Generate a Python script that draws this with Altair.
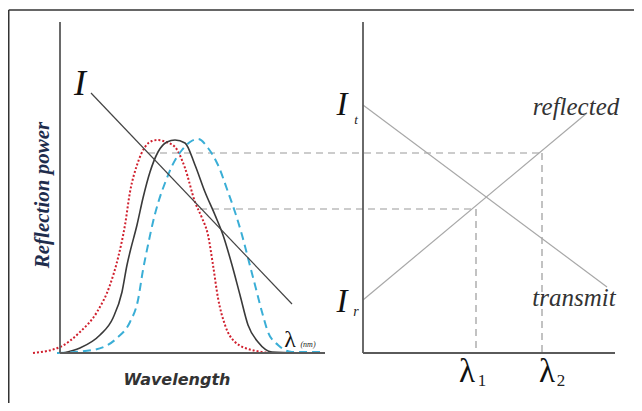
import altair as alt
import pandas as pd

# ---- diagram coordinates (x to the right, y downward) ----
red_x = [33, 60, 80, 97, 110, 118, 125, 130, 137, 145, 152, 158, 166, 175, 185, 195, 202, 208, 213, 218, 225, 235, 252, 275, 300]
red_y = [353, 347, 332, 312, 285, 258, 225, 192, 165, 147, 141, 140, 142, 147, 168, 202, 218, 235, 265, 298, 325, 342, 350, 353, 353]

black_x = [63, 80, 100, 113, 122, 127, 130, 137, 143, 150, 158, 167, 175, 185, 195, 205, 215, 223, 232, 240, 248, 258, 272, 300]
black_y = [353, 348, 335, 318, 292, 265, 252, 225, 198, 172, 152, 142, 140, 143, 165, 192, 215, 235, 265, 295, 325, 342, 352, 353]

cyan_x = [57, 93, 117, 130, 138, 143, 148, 153, 159, 165, 172, 182, 190, 198, 208, 218, 228, 235, 242, 248, 255, 262, 268, 278, 292, 320]
cyan_y = [353, 350, 338, 322, 300, 270, 245, 222, 200, 183, 166, 150, 142, 139, 148, 165, 192, 212, 235, 258, 285, 312, 332, 345, 352, 352]

# segments: x, y, x2, y2
axes_seg = [(60, 22, 60, 353), (60, 353, 325, 353), (363, 22, 363, 353), (363, 353, 615, 353)]
border_seg = [(8.7, 10, 642, 10), (8.7, 10, 8.7, 411)]
i_seg = [(91, 93, 292, 304)]
light_seg = [(363, 105, 607, 287), (363, 300, 587, 113)]
dash_seg = [(148, 153, 542, 153), (200, 209, 476, 209), (476, 209, 476, 353), (542, 153, 542, 353)]

# labels
cap_text = ["I", "I", "I"]
cap_x = [80, 342, 342]
cap_y = [84, 105, 302]
cap_size = [36, 33, 33]

lam_big_text = ["λ", "λ"]
lam_big_x = [467, 547]
lam_big_y = [372, 372]
lam_big_size = [33, 33]

sub_it_text = ["t", "r"]
sub_it_x = [356, 356]
sub_it_y = [120, 312]
sub_it_size = [13, 14]

sub_num_text = ["1", "2"]
sub_num_x = [482, 561]
sub_num_y = [381, 381]
sub_num_size = [17, 17]

word_text = ["reflected", "transmit"]
word_x = [576, 574]
word_y = [107, 298]

lam_text = ["λ", "(nm)"]
lam_x = [290, 308]
lam_y = [340, 345]
lam_size = [24, 8]

xs = alt.Scale(domain=[8, 634], nice=False, zero=False)
ys = alt.Scale(domain=[8, 403], reverse=True, nice=False, zero=False)


def seg_df(segs):
    return pd.DataFrame(segs, columns=["x", "y", "x2", "y2"])


def rules(segs, color, width, dash=None):
    kw = dict(color=color, strokeWidth=width)
    if dash:
        kw["strokeDash"] = dash
    return alt.Chart(seg_df(segs)).mark_rule(**kw).encode(
        x=alt.X("x:Q", scale=xs, axis=None),
        y=alt.Y("y:Q", scale=ys, axis=None),
        x2="x2:Q",
        y2="y2:Q",
    )


def curve(xv, yv, color, width, dash=None):
    df = pd.DataFrame({"x": xv, "y": yv, "i": range(len(xv))})
    kw = dict(color=color, strokeWidth=width, interpolate="monotone")
    if dash:
        kw["strokeDash"] = dash
    return alt.Chart(df).mark_line(**kw).encode(
        x=alt.X("x:Q", scale=xs, axis=None),
        y=alt.Y("y:Q", scale=ys, axis=None),
        order="i:Q",
    )


def texts(tv, xv, yv, sizes, font, style="italic", weight="normal", color="#222", angle=0):
    df = pd.DataFrame({"t": tv, "x": xv, "y": yv, "s": sizes})
    return alt.Chart(df).mark_text(
        font=font, fontStyle=style, fontWeight=weight, color=color,
        align="center", baseline="middle", angle=angle,
    ).encode(
        x=alt.X("x:Q", scale=xs, axis=None),
        y=alt.Y("y:Q", scale=ys, axis=None),
        text="t:N",
        size=alt.Size("s:Q", scale=None, legend=None),
    )


layers = [
    rules(border_seg, "#333333", 1.6),
    rules(dash_seg, "#9a9a9a", 1.2, [7, 5]),
    rules(light_seg, "#a8a8a8", 1.2),
    curve(red_x, red_y, "#d0202e", 2, [2, 2]),
    curve(black_x, black_y, "#3a3a3a", 1.6),
    curve(cyan_x, cyan_y, "#3aaed6", 2, [8, 5]),
    rules(i_seg, "#444444", 1.2),
    rules(axes_seg, "#5a5a5a", 1.8),
    texts(cap_text, cap_x, cap_y, cap_size, "Liberation Serif", color="#111111"),
    texts(lam_big_text, lam_big_x, lam_big_y, lam_big_size, "Liberation Serif", style="normal", color="#111111"),
    texts(sub_it_text, sub_it_x, sub_it_y, sub_it_size, "Liberation Serif"),
    texts(sub_num_text, sub_num_x, sub_num_y, sub_num_size, "Liberation Serif", style="normal"),
    texts(word_text, word_x, word_y, [25, 25], "Liberation Serif", color="#333333"),
    texts(lam_text[:1], lam_x[:1], lam_y[:1], lam_size[:1], "Liberation Serif", style="normal", color="#111111"),
    texts(lam_text[1:], lam_x[1:], lam_y[1:], lam_size[1:], "Liberation Serif"),
    texts(["Wavelength"], [177], [380], [16], "DejaVu Sans", weight="bold", color="#333333"),
    texts(["Reflection power"], [43], [195], [21], "Liberation Serif", weight="bold", color="#1f2d4d", angle=270),
]

chart = alt.layer(*layers).properties(
    width=626, height=395, padding=0, autosize=alt.AutoSizeParams(type="none"),
    background="white",
).configure_view(stroke=None)

chart.save("out.html", embed_options={"renderer": "svg", "actions": False})
